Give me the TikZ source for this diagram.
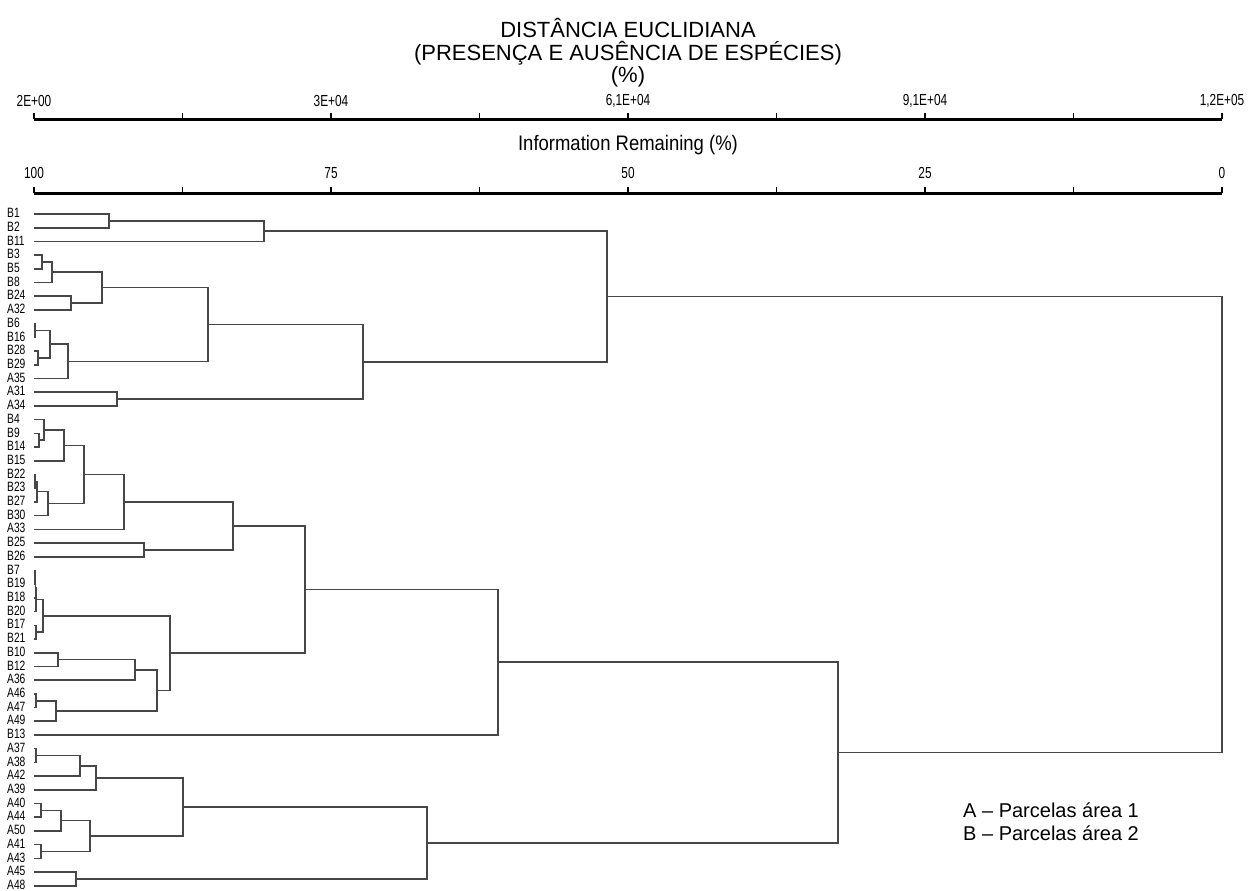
\documentclass[tikz,border=0pt]{standalone}
\usepackage{fontspec}
\setmainfont{Liberation Sans}
\newfontfamily\narrowfont[FakeStretch=0.76]{Liberation Sans}
\newfontfamily\scalefont[FakeStretch=0.74]{Liberation Sans}
\newfontfamily\infofont[FakeStretch=0.88]{Liberation Sans}
\usetikzlibrary{calc}

\tikzset{
  leaf/.style={anchor=west, inner sep=0pt, font=\narrowfont\fontsize{13.5}{13.5}\selectfont},
  scalelabel/.style={inner sep=0pt, font=\scalefont\fontsize{16}{16}\selectfont},
  heading/.style={inner sep=0pt, font=\fontsize{22}{22}\selectfont},
  axisline/.style={line width=3pt, black},
  tickmark/.style={line width=1.5pt, black},
  link/.style={line width=1.6pt, black!72}
}

% join two clusters at distance x
\newcommand{\joinat}[4]{%
  \path ($(#2)!0.5!(#3)$) coordinate (#1m);
  \coordinate (#1) at (#4,0 |- #1m);
  \draw[link] (#2) -| (#1) |- (#3);
}

\begin{document}
\begin{tikzpicture}[x=1pt, y=-1pt]
    \useasboundingbox (0,0) rectangle (1248,891);

    % Titles
    \node[heading] (ttl) at (628,28) {DISTÂNCIA EUCLIDIANA};
    \node[heading] (sub) at (628,53) {(PRESENÇA E AUSÊNCIA DE ESPÉCIES)};
    \node[heading] (pct) at (628,77) {(\%)};

    % Distance axis
    \draw[axisline] (34,119) coordinate (da) -- (1222,119) coordinate (db);
    \foreach \k in {0,...,8}
        \draw[tickmark] ({34+148.5*\k},119) -- ++(0,-6);
    \node[scalelabel] (t0) at (34,101) {2E+00};
    \node[scalelabel] (t2) at (331,101) {3E+04};
    \node[scalelabel] (t4) at (628,101) {6,1E+04};
    \node[scalelabel] (t6) at (925,101) {9,1E+04};
    \node[scalelabel] (t8) at (1222,101) {1,2E+05};

    % Information axis
    \node[font=\infofont\fontsize{21}{21}\selectfont, inner sep=0pt] (info) at (628,145) {Information Remaining (\%)};
    \draw[axisline] (34,193) coordinate (ia) -- (1222,193) coordinate (ib);
    \foreach \k in {0,...,8}
        \draw[tickmark] ({34+148.5*\k},193) -- ++(0,-6);
    \node[scalelabel] (i0) at (34,173) {100};
    \node[scalelabel] (i2) at (331,173) {75};
    \node[scalelabel] (i4) at (628,173) {50};
    \node[scalelabel] (i6) at (925,173) {25};
    \node[scalelabel] (i8) at (1222,173) {0};

    % Leaves
    \foreach \lab [count=\i from 0] in {B1,B2,B11,B3,B5,B8,B24,A32,B6,B16,B28,B29,A35,A31,A34,
        B4,B9,B14,B15,B22,B23,B27,B30,A33,B25,B26,B7,B19,B18,B20,B17,B21,B10,B12,A36,
        A46,A47,A49,B13,A37,A38,A42,A39,A40,A44,A50,A41,A43,A45,A48} {
        \node[leaf] (l\lab) at (7,{213+13.71*\i}) {\lab};
        \coordinate (\lab) at (34,{214+13.71*\i});
    }

    % Upper group
    \joinat{jBa}{B1}{B2}{109}
    \joinat{jBb}{jBa}{B11}{264}
    \joinat{jBc}{B3}{B5}{42}
    \joinat{jBd}{jBc}{B8}{52}
    \joinat{jBe}{B24}{A32}{71}
    \joinat{jBf}{jBd}{jBe}{102}
    \joinat{jBg}{B6}{B16}{35}
    \joinat{jBh}{B28}{B29}{38}
    \joinat{jBi}{jBg}{jBh}{50}
    \joinat{jBj}{jBi}{A35}{68}
    \joinat{jBk}{jBf}{jBj}{208}
    \joinat{jBl}{A31}{A34}{117}
    \joinat{jBm}{jBk}{jBl}{363}
    \joinat{jTop}{jBb}{jBm}{607}

    % Middle group
    \joinat{jMa}{B9}{B14}{39}
    \joinat{jMb}{B4}{jMa}{44}
    \joinat{jMc}{jMb}{B15}{64}
    \joinat{jMd}{B22}{B23}{35}
    \joinat{jMe}{jMd}{B27}{37}
    \joinat{jMf}{jMe}{B30}{48}
    \joinat{jMg}{jMc}{jMf}{84}
    \joinat{jMh}{jMg}{A33}{124}
    \joinat{jMi}{B25}{B26}{144}
    \joinat{jMj}{jMh}{jMi}{233}
    \joinat{jMk}{B7}{B19}{35}
    \joinat{jMl}{jMk}{B18}{35.5}
    \joinat{jMm}{jMl}{B20}{36}
    \joinat{jMn}{B17}{B21}{36}
    \joinat{jMo}{jMm}{jMn}{43}
    \joinat{jMp}{B10}{B12}{58}
    \joinat{jMq}{jMp}{A36}{135}
    \joinat{jMr}{A46}{A47}{36}
    \joinat{jMs}{jMr}{A49}{56}
    \joinat{jMt}{jMq}{jMs}{157}
    \joinat{jMu}{jMo}{jMt}{170}
    \joinat{jMv}{jMj}{jMu}{305}
    \joinat{jMw}{jMv}{B13}{498}

    % Lower group
    \joinat{jAa}{A37}{A38}{36}
    \joinat{jAb}{jAa}{A42}{80}
    \joinat{jAc}{jAb}{A39}{96}
    \joinat{jAd}{A40}{A44}{41}
    \joinat{jAe}{jAd}{A50}{61}
    \joinat{jAf}{A41}{A43}{41}
    \joinat{jAg}{jAe}{jAf}{90}
    \joinat{jAh}{jAc}{jAg}{183}
    \joinat{jAi}{A45}{A48}{76}
    \joinat{jAj}{jAh}{jAi}{427}
    \joinat{jLow}{jMw}{jAj}{838}
    \joinat{jAll}{jTop}{jLow}{1222}

    % Legend
    \node[heading, anchor=west, font=\fontsize{20}{20}\selectfont] (legA) at (963,810) {A – Parcelas área 1};
    \node[heading, anchor=west, font=\fontsize{20}{20}\selectfont] (legB) at (963,833) {B – Parcelas área 2};
\end{tikzpicture}
\end{document}
